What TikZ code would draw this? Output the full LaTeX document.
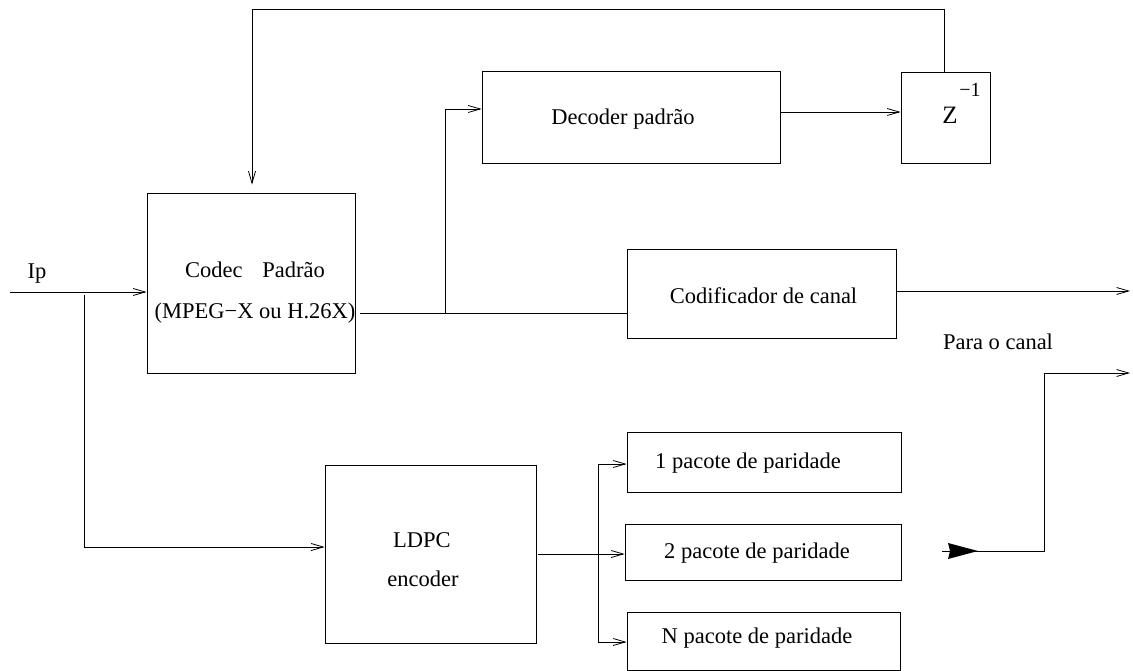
\documentclass[tikz,border=0pt]{standalone}
\usepackage{fontspec}
\setmainfont{Liberation Serif}
\usetikzlibrary{arrows.meta}
\begin{document}
\begin{tikzpicture}[x=1pt,y=-1pt,line width=0.8pt,
  blk/.style 2 args={draw,inner sep=0pt,minimum width=#1,minimum height=#2},
  txt/.style={anchor=base,inner sep=0pt,font=\fontsize{22.5}{27}\selectfont},
  arr/.style={-{Straight Barb[length=12pt,width=7pt]}}]
\useasboundingbox (0,0) rectangle (1133,671);

% blocks
\node[blk={208pt}{180pt}] (codec) at (251,283) {};
\node[blk={298pt}{92pt}]  (dec)   at (631,117) {};
\node[blk={89pt}{91pt}]   (zb)    at (945.5,117.5) {};
\node[blk={269pt}{89pt}]  (codif) at (761.5,293.5) {};
\node[blk={211pt}{178pt}] (ldpc)  at (430.5,554) {};
\node[blk={274pt}{60pt}]  (b1)    at (764,462) {};
\node[blk={276pt}{56pt}]  (b2)    at (763,552) {};
\node[blk={273pt}{58pt}]  (bn)    at (763.5,641) {};

% labels
\node[txt] (tip)   at (37,279)  {Ip};
\node[txt] (tc1)   at (255,278) {Codec\hspace{20pt}Padrão};
\node[txt] (tc2)   at (255,318) {(MPEG−X ou H.26X)};
\node[txt] (tdec)  at (623,125) {Decoder padrão};
\node[txt,font=\fontsize{25}{29}\selectfont] (tz) at (950,124) {Z};
\node[txt,font=\fontsize{20}{24}\selectfont] (tzexp) at (970,97) {−1};
\node[txt] (tcod)  at (763.5,304) {Codificador de canal};
\node[txt] (tpara) at (998,349) {Para o canal};
\node[txt] (tl1)   at (422,547) {LDPC};
\node[txt] (tl2)   at (423,586) {encoder};
\node[txt] (tb1)   at (748,468) {1 pacote de paridade};
\node[txt] (tb2)   at (757,558) {2 pacote de paridade};
\node[txt] (tbn)   at (757,643) {N pacote de paridade};

% connection points
\coordinate (ipin) at (10,292);
\coordinate (tap)  at (84,295);
\coordinate (tapd) at (84,547);
\coordinate (cout) at (360,313);
\coordinate (dtap) at (445,313);
\coordinate (dtop) at (445,109);
\coordinate (fb1)  at (944,9);
\coordinate (fb2)  at (252,9);
\coordinate (bus)  at (598,554);
\coordinate (bus1) at (598,464);
\coordinate (busn) at (598,642);
\coordinate (fa)   at (942,551);
\coordinate (fb)   at (978,551);
\coordinate (fc)   at (1044,551);
\coordinate (fd)   at (1044,373);
\coordinate (out2) at (1130,373);
\coordinate (out1) at (1130,291);

% connectors
\draw[arr] (ipin) -- (ipin -| codec.west);
\draw[arr] (tap) -- (tapd) -- (tapd -| ldpc.west);
\draw (cout) -- (cout -| codif.west);
\draw[arr] (dtap) -- (dtop) -- (dtop -| dec.west);
\draw[arr] (dec.east |- 0,112) -- (zb.west |- 0,112);
\draw[arr,shorten >=8pt] (zb.north -| fb1) -- (fb1) -- (fb2) -- (codec.north -| fb2);
\draw[arr] (codif.east |- out1) -- (out1);
\draw[arr] ([xshift=2pt]ldpc.east |- bus) -- (bus -| b2.west);
\draw (bus1) -- (busn);
\draw[arr] (bus1) -- (bus1 -| b1.west);
\draw[arr] (busn) -- (busn -| bn.west);
% large filled head on the second output line
\draw (fa) -- (fb);
\fill (fb) -- ++(-30,-8) -- ++(2,8) -- ++(-2,8) -- cycle;
\draw[arr] (fb) -- (fc) -- (fd) -- (out2);
\end{tikzpicture}
\end{document}
